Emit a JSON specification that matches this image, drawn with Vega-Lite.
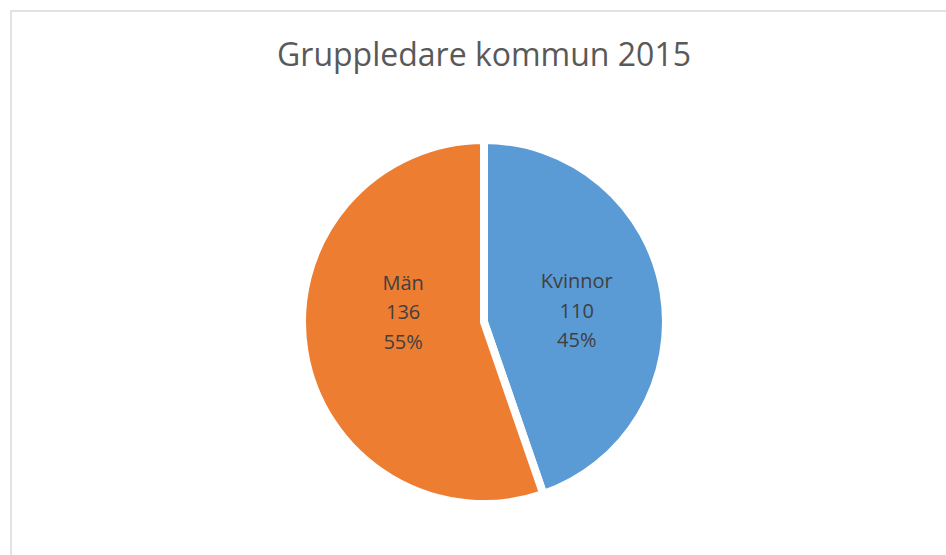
{
  "$schema": "https://vega.github.io/schema/vega-lite/v6.json",
  "autosize": "none",
  "padding": {"left": 11, "top": 11, "right": 0, "bottom": 0},
  "width": 946,
  "height": 622,
  "background": "white",
  "view": {"stroke": "#d9d9d9", "strokeWidth": 1.5, "fill": "white"},
  "config": {
    "view": {"stroke": "#d9d9d9", "strokeWidth": 1.5},
    "font": "Open Sans"
  },
  "title": {
    "text": "Gruppledare kommun 2015",
    "font": "Open Sans",
    "fontSize": 32,
    "fontWeight": "normal",
    "color": "#595959",
    "anchor": "middle",
    "baseline": "alphabetic",
    "offset": -87
  },
  "data": {
    "values": [
      {"kategori": "Kvinnor", "antal": 110, "andel": "45%"},
      {"kategori": "Män", "antal": 136, "andel": "55%"}
    ]
  },
  "transform": [
    {"calculate": "datum.kategori + '\\n' + datum.antal + '\\n' + datum.andel", "as": "etikett"}
  ],
  "encoding": {
    "theta": {"field": "antal", "type": "quantitative", "stack": true},
    "color": {
      "field": "kategori",
      "type": "nominal",
      "scale": {"domain": ["Kvinnor", "Män"], "range": ["#5B9BD5", "#ED7D31"]},
      "legend": null
    }
  },
  "layer": [
    {
      "mark": {"type": "arc", "outerRadius": 182, "stroke": "white", "strokeWidth": 8}
    },
    {
      "mark": {"type": "text", "radius": 94, "fontSize": 20, "font": "Open Sans", "lineBreak": "\n", "lineHeight": 29.5, "align": "center", "baseline": "middle", "dy": -24},
      "encoding": {
        "text": {"condition": {"test": "datum.kategori === 'Kvinnor'", "field": "etikett"}, "value": ""},
        "color": {"value": "#404040"}
      }
    },
    {
      "mark": {"type": "text", "radius": 82, "fontSize": 20, "font": "Open Sans", "lineBreak": "\n", "lineHeight": 29.5, "align": "center", "baseline": "middle", "dy": -52},
      "encoding": {
        "text": {"condition": {"test": "datum.kategori === 'Män'", "field": "etikett"}, "value": ""},
        "color": {"value": "#404040"}
      }
    }
  ]
}
